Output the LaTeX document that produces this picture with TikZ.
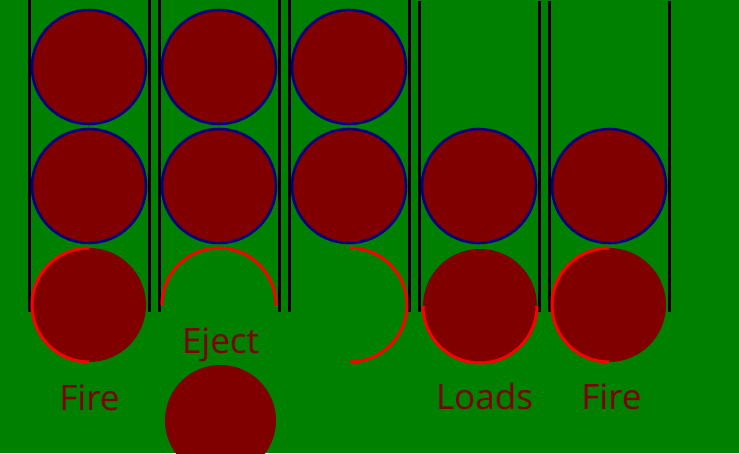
\documentclass[tikz,border=0pt]{standalone}
\usepackage{fontspec}
\setmainfont{Open Sans}
\definecolor{bggreen}{RGB}{0,128,0}
\definecolor{ballred}{RGB}{128,0,0}
\definecolor{rimnavy}{RGB}{0,0,128}
\definecolor{rimred}{RGB}{255,0,0}
\begin{document}
\begin{tikzpicture}[x=1pt,y=1pt,
  ball/.style={circle, fill=ballred, minimum size=114pt, inner sep=0pt, outer sep=0pt},
  stacked/.style={ball, draw=rimnavy, line width=2.6pt},
  rail/.style={line width=3pt, black},
  rimarc/.style={draw=rimred, line width=3pt},
  lbl/.style={text=ballred, anchor=base, inner sep=0pt, font=\fontsize{35}{40}\selectfont}]
\fill[bggreen] (0,0) rectangle (739,453);
\useasboundingbox (0,0) rectangle (739,453);
% rails
\foreach \x in {29.5,149.5,159.5,279.5,289.5,409.5}
  \draw[rail] (\x,453) -- (\x,141);
\foreach \x in {419.5,539.5,549.5,669.5}
  \draw[rail] (\x,452) -- (\x,141);
% top row
\node[stacked] (a1) at (89,386) {};
\node[stacked] (a2) at (219,386) {};
\node[stacked] (a3) at (349,386) {};
% second row
\node[stacked] (m1) at (89,267) {};
\node[stacked] (m2) at (219,267) {};
\node[stacked] (m3) at (349,267) {};
\node[stacked] (m4) at (479,267) {};
\node[stacked] (m5) at (609,267) {};
% bottom row
\node[ball] (b1) at (89,148) {};
\draw[rimarc] (89,205) arc[start angle=90, end angle=270, radius=57];
\coordinate (b2) at (219,148);
\draw[rimarc] (276,148) arc[start angle=0, end angle=180, radius=57];
\coordinate (b3) at (350,148);
\draw[rimarc] (350,205) arc[start angle=90, end angle=-90, radius=57];
\node[ball] (b4) at (480,147) {};
\draw[rimarc] (423,147) arc[start angle=180, end angle=360, radius=57];
\node[ball] (b5) at (609,148) {};
\draw[rimarc] (609,205) arc[start angle=90, end angle=270, radius=57];
% ejected ball
\node[ball, minimum size=111pt] (ej) at (220.5,32.5) {};
% labels
\node[lbl] (t1) at (89.5,43) {Fire};
\node[lbl] (t2) at (220.5,100) {Eject};
\node[lbl] (t3) at (484.5,44) {Loads};
\node[lbl] (t4) at (611.5,44) {Fire};
\end{tikzpicture}
\end{document}
